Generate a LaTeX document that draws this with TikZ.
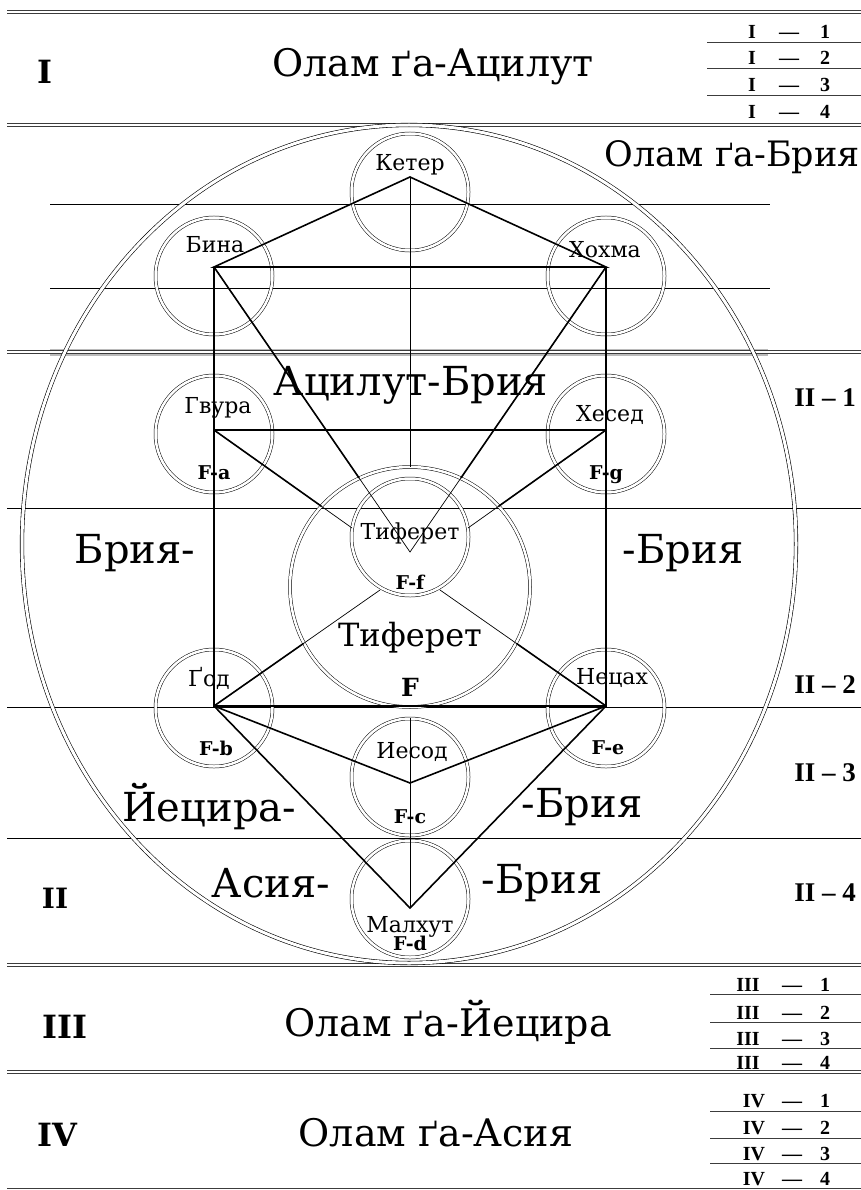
\documentclass[tikz,border=0pt]{standalone}
\usepackage{fontspec}
\setmainfont{DejaVu Serif}
\newfontfamily\tabfont{Liberation Serif}
\usepackage{tikz}
\usetikzlibrary{calc}
\definecolor{rule}{RGB}{60,60,60}
\definecolor{band}{RGB}{140,140,140}

\begin{document}
\begin{tikzpicture}[x=1pt, y=-1pt,
  sefira/.style={draw, double, double distance=2.5pt, line width=0.5pt, circle, minimum size=117pt, inner sep=0pt},
  rib/.style={line width=1.6pt},
  fine/.style={line width=0.7pt},
  dbl/.style={draw=rule, double, double distance=2pt, line width=0.8pt},
  title/.style={font=\fontsize{38}{40}\selectfont},
  big/.style={font=\fontsize{40}{42}\selectfont},
  lbl/.style={font=\fontsize{22}{24}\selectfont, inner sep=0pt},
  fl/.style={font=\fontsize{19}{20}\selectfont\bfseries, inner sep=0pt},
  row/.style={font=\tabfont\fontsize{20}{21}\selectfont\bfseries, inner sep=0pt, anchor=base},
  side/.style={font=\tabfont\fontsize{27}{28}\selectfont\bfseries, inner sep=0pt},
  num/.style={font=\fontsize{32}{33}\selectfont\bfseries},
  ]
\useasboundingbox (0,0) rectangle (861,1190);

% world borders
\draw[dbl] (7,12) -- (861,12);
\draw[dbl] (7,125) -- (861,125);
\fill[band, opacity=0.6] (50,349) rectangle (768,356);
\draw[dbl] (7,352) -- (861,352);
\draw[dbl] (7,965) -- (861,965);
\draw[dbl] (7,1072) -- (861,1072);
\draw[rule, line width=0.9pt] (7,1188) -- (861,1188);

% inner rules
\draw[fine] (50,204) -- (770,204);
\draw[fine] (50,288) -- (770,288);
\draw[fine] (7,508) -- (861,508);
\draw[fine] (7,707) -- (861,707);
\draw[fine] (7,838) -- (861,838);

% small tables
\foreach \y in {42,68,95} \draw[rule, fine] (707,\y) -- (861,\y);
\foreach \y in {994,1022,1048} \draw[rule, fine] (710,\y) -- (861,\y);
\foreach \y in {1111,1138,1163} \draw[rule, fine] (710,\y) -- (861,\y);
\foreach \n/\y in {1/39,2/65,3/92,4/119} {
  \node[row] (a\n) at (752,\y) {I};
  \node[row] (ad\n) at (789,\y) {—};
  \node[row] (an\n) at (825,\y) {\n};
}
\foreach \n/\y in {1/991,2/1019,3/1045,4/1069} {
  \node[row] (c\n) at (748,\y) {III};
  \node[row] (cd\n) at (792,\y) {—};
  \node[row] (cn\n) at (825,\y) {\n};
}
\foreach \n/\y in {1/1107,2/1134,3/1160,4/1185} {
  \node[row] (d\n) at (754,\y) {IV};
  \node[row] (dd\n) at (792,\y) {—};
  \node[row] (dn\n) at (825,\y) {\n};
}

% outer circle of Bria
\draw[double, double distance=3pt, line width=0.6pt] (409,544) ellipse [x radius=387pt, y radius=419pt];

% sefirot
\node[sefira] (keter) at (410,192) {};
\node[sefira] (bina) at (214,276) {};
\node[sefira] (hokhma) at (606,276) {};
\node[sefira] (gvura) at (214,434) {};
\node[sefira] (hesed) at (606,434) {};
\node[sefira, minimum size=240pt] (tifbig) at (410,587) {};
\node[sefira] (tif) at (410,537) {};
\node[sefira] (hod) at (214,708) {};
\node[sefira] (netzah) at (606,708) {};
\node[sefira] (yesod) at (410,777) {};
\node[sefira] (malkhut) at (410,899) {};

\coordinate (pK) at (410,177);
\coordinate (pB) at (214,267);
\coordinate (pH) at (606,267);
\coordinate (pG) at (214,430);
\coordinate (pC) at (606,430);
\coordinate (pT) at (410,552);
\coordinate (pHd) at (214,706);
\coordinate (pN) at (606,706);
\coordinate (pY) at (410,783);
\coordinate (pM) at (410,908);
\coordinate (gL) at (352,528);
\coordinate (gR) at (468,528);
\coordinate (hL) at (380,590);
\coordinate (hR) at (440,590);

% paths
\draw[rib] (pB) -- (pK) -- (pH) -- cycle;
\draw[rib] (pB) -- (pHd) -- (pN) -- (pH);
\draw[fine] (pK) -- (tifbig.north);
\draw[fine] (pB) -- (pT) -- (pH);
\draw[rib] (pB) -- ($(pB)!0.74!(pT)$);
\draw[rib] (pH) -- ($(pH)!0.74!(pT)$);
\draw[rib] (pG) -- (pC);
\draw[fine] (pG) -- (gL);
\draw[fine] (pC) -- (gR);
\draw[rib] (pG) -- ($(pG)!0.777!(gL)$);
\draw[rib] (pC) -- ($(pC)!0.777!(gR)$);
\draw[fine] (hL) -- (pHd);
\draw[fine] (hR) -- (pN);
\draw[rib] (pHd) -- ($(pHd)!0.54!(hL)$);
\draw[rib] (pN) -- ($(pN)!0.54!(hR)$);
\draw[rib] (pHd) -- (pY) -- (pN);
\draw[rib] (pHd) -- (pM) -- (pN);
\draw[fine] (yesod.north) -- (pM);

% names of sefirot
\node[lbl] (tketer) at (410,165) {Кетер};
\node[lbl] (tbina) at (215,245) {Бина};
\node[lbl] (thokhma) at (605,250) {Хохма};
\node[lbl] (tgvura) at (218,408) {Гвура};
\node[lbl] (thesed) at (610,415) {Хесед};
\node[fl] (fa) at (214,473) {F-a};
\node[fl] (fg) at (606,475) {F-g};
\node[lbl] (ttif) at (410,533) {Тиферет};
\node[fl] (ff) at (410,582) {F-f};
\node[font=\fontsize{32}{34}\selectfont] (ttifbig) at (410,638) {Тиферет};
\node[font=\fontsize{25}{26}\selectfont\bfseries] (fbig) at (410,687) {F};
\node[lbl] (thod) at (209,678) {Ґод};
\node[lbl] (tnetzah) at (612,678) {Нецах};
\node[fl] (fb) at (216,748) {F-b};
\node[fl] (fe) at (608,748) {F-e};
\node[lbl] (tyesod) at (412,752) {Иесод};
\node[fl] (fc) at (410,817) {F-c};
\node[lbl] (tmalkhut) at (410,927) {Малхут};
\node[fl] (fd) at (410,943) {F-d};

% worlds
\node[num] (w1) at (45,72) {I};
\node[title] (olam1) at (433,67) {Олам ґа-Ацилут};
\node[title, font=\fontsize{35}{37}\selectfont, anchor=east, inner sep=0pt] (olam2) at (860,157) {Олам ґа-Брия};
\node[big] (acbr) at (411,385) {Ацилут-Брия};
\node[big] (br1) at (135,553) {Брия-};
\node[big] (br2) at (683,553) {-Брия};
\node[big] (ye1) at (209,807) {Йецира-};
\node[big] (ye2) at (582,807) {-Брия};
\node[big] (as1) at (271,883) {Асия-};
\node[big] (as2) at (542,883) {-Брия};
\node[num, font=\fontsize{28}{29}\selectfont\bfseries] (w2) at (55,898) {II};
\node[side] (r1) at (825,398) {II – 1};
\node[side] (r2) at (825,685) {II – 2};
\node[side] (r3) at (825,773) {II – 3};
\node[side] (r4) at (825,893) {II – 4};
\node[num] (w3) at (65,1027) {III};
\node[title] (olam3) at (448,1022) {Олам ґа-Йецира};
\node[num] (w4) at (57,1135) {IV};
\node[title] (olam4) at (436,1133) {Олам ґа-Асия};
\end{tikzpicture}
\end{document}
